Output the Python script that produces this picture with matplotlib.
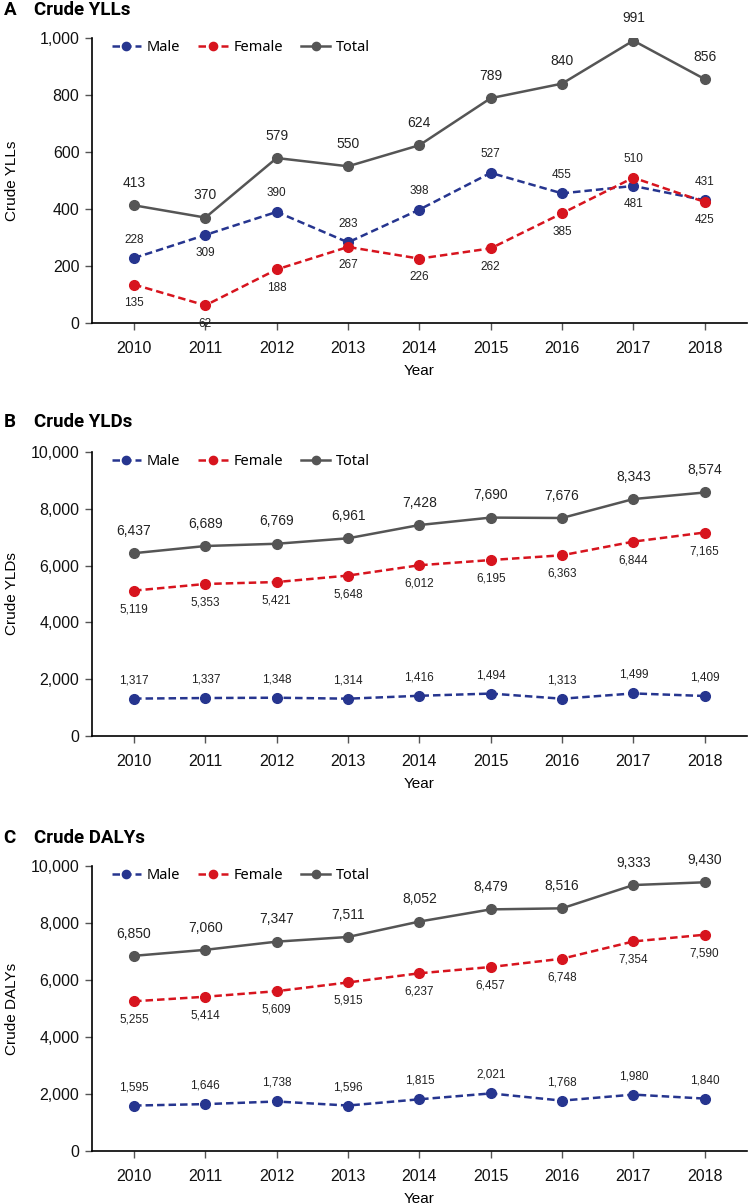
import numpy as np
import matplotlib.pyplot as plt
from matplotlib.ticker import FuncFormatter

years = [2010, 2011, 2012, 2013, 2014, 2015, 2016, 2017, 2018]

yll_male = [228, 309, 390, 283, 398, 527, 455, 481, 431]
yll_female = [135, 62, 188, 267, 226, 262, 385, 510, 425]
yll_total = [413, 370, 579, 550, 624, 789, 840, 991, 856]

yld_male = [1317, 1337, 1348, 1314, 1416, 1494, 1313, 1499, 1409]
yld_female = [5119, 5353, 5421, 5648, 6012, 6195, 6363, 6844, 7165]
yld_total = [6437, 6689, 6769, 6961, 7428, 7690, 7676, 8343, 8574]

daly_male = [1595, 1646, 1738, 1596, 1815, 2021, 1768, 1980, 1840]
daly_female = [5255, 5414, 5609, 5915, 6237, 6457, 6748, 7354, 7590]
daly_total = [6850, 7060, 7347, 7511, 8052, 8479, 8516, 9333, 9430]

# label placement: +1 above the point, -1 below
yll_male_pos = [1, -1, 1, 1, 1, 1, 1, -1, 1]
yll_female_pos = [-1, -1, -1, -1, -1, -1, -1, 1, -1]

panels = [
    ("A", "Crude YLLs", "Crude YLLs", 1000, 200, yll_male, yll_female, yll_total, yll_male_pos, yll_female_pos),
    ("B", "Crude YLDs", "Crude YLDs", 10000, 2000, yld_male, yld_female, yld_total, [1] * 9, [-1] * 9),
    ("C", "Crude DALYs", "Crude DALYs", 10000, 2000, daly_male, daly_female, daly_total, [1] * 9, [-1] * 9),
]

C_MALE = "#26358f"
C_FEMALE = "#d7141e"
C_TOTAL = "#555555"
NUM_FONT = "Liberation Sans"
LBL_FONT = "Noto Sans"
TITLE_FONT = ["Roboto", "DejaVu Sans"]

fig = plt.figure(figsize=(7.49, 12.04), dpi=100)

# axes boxes in figure fractions (left, bottom, width, height)
boxes = [
    (0.1228, 0.7317, 0.8742, 0.2367),
    (0.1228, 0.3887, 0.8742, 0.2359),
    (0.1228, 0.0440, 0.8742, 0.2367),
]
title_y = [0.9917, 0.6495, 0.3040]

fmt = FuncFormatter(lambda v, p: f"{int(v):,}")

for (letter, title, ylabel, ymax, ystep, male, female, total, mpos, fpos), box, ty in zip(panels, boxes, title_y):
    ax = fig.add_axes(box)
    ax.plot(years, male, color=C_MALE, ls=(0, (3, 1.6)), lw=1.8, marker="o", ms=7, label="Male")
    ax.plot(years, female, color=C_FEMALE, ls=(0, (3, 1.6)), lw=1.8, marker="o", ms=7, label="Female")
    ax.plot(years, total, color=C_TOTAL, ls="-", lw=1.8, marker="o", ms=7, label="Total")

    for x, v in zip(years, total):
        ax.annotate(f"{v:,}", (x, v), xytext=(0, 11), textcoords="offset points",
                    ha="center", va="bottom", fontsize=10, family=NUM_FONT, color="#222222")
    for vals, pos in ((male, mpos), (female, fpos)):
        for x, v, p in zip(years, vals, pos):
            ax.annotate(f"{v:,}", (x, v), xytext=(0, 9 * p), textcoords="offset points",
                        ha="center", va="bottom" if p > 0 else "top",
                        fontsize=8.5, family=NUM_FONT, color="#222222")

    ax.set_xlim(2009.41, 2018.59)
    ax.set_ylim(0, ymax)
    ax.set_xticks(years)
    ax.set_yticks(np.arange(0, ymax + 1, ystep))
    ax.yaxis.set_major_formatter(fmt)
    ax.spines["top"].set_visible(False)
    ax.spines["right"].set_visible(False)
    ax.spines["left"].set_linewidth(1.2)
    ax.spines["bottom"].set_linewidth(1.2)
    ax.tick_params(axis="both", direction="out", length=5, width=1, color="#555555",
                   labelsize=11.5, pad=4)
    for t in ax.get_xticklabels() + ax.get_yticklabels():
        t.set_family(NUM_FONT)
        t.set_color("#111111")
    ax.tick_params(axis="x", pad=8)
    ax.set_xlabel("Year", fontsize=11, family=NUM_FONT, labelpad=6)

    # y label placed in figure coords so it sits near the left edge
    yc = box[1] + box[3] / 2
    fig.text(12 / 749, yc, ylabel, rotation=90, ha="center", va="center",
             fontsize=11, family=NUM_FONT)

    ax.legend(loc="upper left", bbox_to_anchor=(0.01, 1.04), ncol=3, frameon=False,
              handlelength=2.0, handletextpad=0.4, columnspacing=1.25,
              prop={"family": LBL_FONT, "size": 10.5}, markerscale=0.85)

    fig.text(0.005, ty, letter, fontsize=13.5, fontweight="bold", family=TITLE_FONT, va="center")
    fig.text(0.046, ty, title, fontsize=13.5, fontweight="bold", family=TITLE_FONT, va="center")

fig.savefig("out.png", dpi=100)
